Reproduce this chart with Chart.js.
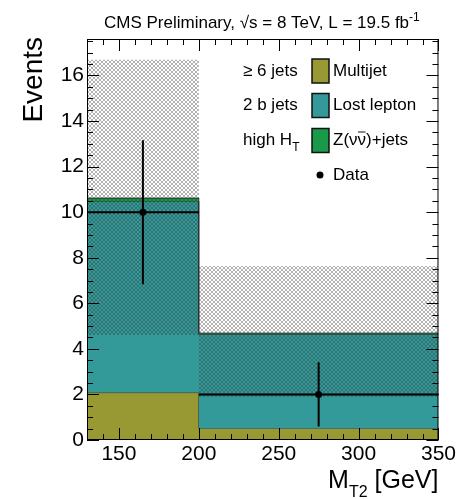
<!DOCTYPE html>
<html>
<head>
<meta charset="utf-8">
<title>MT2 high HT</title>
<script src="https://cdn.jsdelivr.net/npm/chart.js@4.4.0/dist/chart.umd.min.js"></script>
<style>body{margin:0;background:#fff}</style>
</head>
<body>
<canvas id="mt2" width="458" height="499"></canvas>
<script>
// bin edges, MT2 [GeV]
var binEdges = [130, 200, 350];
// stacked backgrounds per bin
var multijet = [2.08, 0.51];
var lostLepton = [8.39, 4.13];
var znunu = [0.15, 0.05];
// total background uncertainty band
var bandLow = [4.61, 1.9];
var bandHigh = [16.69, 7.64];
// observed data
var dataX = [165, 275];
var dataY = [10, 2];
var dataLow = [6.84, 0.59];
var dataHigh = [13.16, 3.41];

var FONT = 'Liberation Sans, Arial, Helvetica, sans-serif';

function addUp(a, b) { return a.map(function(v, i) { return v + b[i]; }); }
var stackMJ = multijet;
var stackLL = addUp(stackMJ, lostLepton);
var stackZ = addUp(stackLL, znunu);

// points at left bin edges + last right edge, drawn as steps
function steps(vals) {
  var pts = vals.map(function(v, i) { return {x: binEdges[i], y: v}; });
  pts.push({x: binEdges[binEdges.length - 1], y: vals[vals.length - 1]});
  return pts;
}

function hatch() {
  var c = document.createElement('canvas');
  c.width = 4; c.height = 4;
  var g = c.getContext('2d');
  g.fillStyle = 'rgba(50,50,50,0.38)';
  for (var i = 0; i < 4; i++) {
    g.fillRect(i, i, 1, 1);
    g.fillRect(3 - i, i, 1, 1);
  }
  return g.createPattern(c, 'repeat');
}

function histo(label, vals, color, fill, order) {
  return {
    label: label, data: steps(vals), stepped: 'before', fill: fill, order: order,
    backgroundColor: color, borderColor: 'rgba(20,20,20,0.8)', borderWidth: 1,
    pointRadius: 0
  };
}

// error bars, frame, inward ticks and all the ROOT-style texts
var decor = {
  id: 'decor',
  afterDatasetsDraw: function(chart) {
    var ctx = chart.ctx, x = chart.scales.x, y = chart.scales.y;
    ctx.save();
    ctx.strokeStyle = '#000';
    ctx.lineWidth = 2;
    for (var i = 0; i < dataY.length; i++) {
      ctx.beginPath();
      ctx.moveTo(x.getPixelForValue(binEdges[i]), y.getPixelForValue(dataY[i]));
      ctx.lineTo(x.getPixelForValue(binEdges[i + 1]), y.getPixelForValue(dataY[i]));
      ctx.moveTo(x.getPixelForValue(dataX[i]), y.getPixelForValue(dataLow[i]));
      ctx.lineTo(x.getPixelForValue(dataX[i]), y.getPixelForValue(dataHigh[i]));
      ctx.stroke();
    }
    // bin edge line down to the axis
    ctx.lineWidth = 1;
    ctx.strokeStyle = 'rgba(20,20,20,0.8)';
    ctx.beginPath();
    var ex = Math.round(x.getPixelForValue(binEdges[1])) + 0.5;
    ctx.moveTo(ex, y.getPixelForValue(0));
    ctx.lineTo(ex, y.getPixelForValue(stackMJ[1]));
    ctx.stroke();
    ctx.restore();
  },
  afterDraw: function(chart) {
    var ctx = chart.ctx, a = chart.chartArea, x = chart.scales.x, y = chart.scales.y;
    ctx.save();
    ctx.strokeStyle = '#000';
    ctx.lineWidth = 1;
    ctx.strokeRect(a.left + 0.5, a.top + 0.5, a.right - a.left - 1, a.bottom - a.top - 1);
    ctx.beginPath();
    var v, p, len;
    for (v = 130; v <= 350; v += 10) {
      p = Math.round(x.getPixelForValue(v)) + 0.5;
      len = v % 50 === 0 ? 12 : 6;
      ctx.moveTo(p, a.bottom); ctx.lineTo(p, a.bottom - len);
      ctx.moveTo(p, a.top); ctx.lineTo(p, a.top + len);
    }
    for (v = 0; v <= 17.5; v += 0.5) {
      p = Math.round(y.getPixelForValue(v)) + 0.5;
      len = v % 2 === 0 ? 12 : 6;
      ctx.moveTo(a.left, p); ctx.lineTo(a.left + len, p);
      ctx.moveTo(a.right, p); ctx.lineTo(a.right - len, p);
    }
    ctx.stroke();

    ctx.fillStyle = '#000';
    ctx.textBaseline = 'alphabetic';
    // title
    ctx.font = '17px ' + FONT;
    var t = 'CMS Preliminary, \u221As = 8 TeV, L = 19.5 fb';
    ctx.fillText(t, 104, 28);
    var tw = ctx.measureText(t).width;
    ctx.font = '12px ' + FONT;
    ctx.fillText('-1', 104 + tw, 21);

    // y title
    ctx.save();
    ctx.translate(42, 37);
    ctx.rotate(-Math.PI / 2);
    ctx.textAlign = 'right';
    ctx.font = '28px ' + FONT;
    ctx.fillText('Events', 0, 0);
    ctx.restore();

    // x title
    ctx.font = '25px ' + FONT;
    var w1 = ctx.measureText('M').width, w3 = ctx.measureText(' [GeV]').width;
    ctx.font = '16px ' + FONT;
    var w2 = ctx.measureText('T2').width;
    var x0 = a.right - w1 - w2 - w3;
    ctx.font = '25px ' + FONT;
    ctx.fillText('M', x0, 488);
    ctx.fillText(' [GeV]', x0 + w1 + w2, 488);
    ctx.font = '16px ' + FONT;
    ctx.fillText('T2', x0 + w1, 497);

    // legend
    var rows = [71, 105.5, 140.5, 175];
    ctx.font = '17px ' + FONT;
    ctx.textBaseline = 'middle';
    ctx.fillText('\u2265 6 jets', 243, rows[0]);
    ctx.fillText('2 b jets', 243, rows[1]);
    ctx.fillText('high H', 243, rows[2]);
    var hw = ctx.measureText('high H').width;
    ctx.font = '12px ' + FONT;
    ctx.fillText('T', 243 + hw, rows[2] + 7);

    var boxes = [['Multijet', '#999933'], ['Lost lepton', '#339999'], ['Z', '#19994a']];
    ctx.lineWidth = 1.5;
    for (var i = 0; i < 3; i++) {
      ctx.fillStyle = boxes[i][1];
      ctx.fillRect(312, rows[i] - 12, 17, 24);
      ctx.strokeStyle = '#111';
      ctx.strokeRect(312, rows[i] - 12, 17, 24);
    }
    ctx.fillStyle = '#000';
    ctx.font = '17px ' + FONT;
    ctx.fillText('Multijet', 333, rows[0]);
    ctx.fillText('Lost lepton', 333, rows[1]);
    var zx = 333;
    ctx.fillText('Z(\u03BD', zx, rows[2]);
    zx += ctx.measureText('Z(\u03BD').width;
    var nw = ctx.measureText('\u03BD').width;
    ctx.fillText('\u03BD', zx, rows[2]);
    ctx.beginPath();
    ctx.lineWidth = 1;
    ctx.moveTo(zx + 0.5, rows[2] - 8.5);
    ctx.lineTo(zx + nw - 0.5, rows[2] - 8.5);
    ctx.stroke();
    ctx.fillText(')+jets', zx + nw, rows[2]);
    ctx.beginPath();
    ctx.arc(320, rows[3], 3.5, 0, Math.PI * 2);
    ctx.fill();
    ctx.fillText('Data', 333, rows[3]);
    ctx.restore();
  }
};

var ctx = document.getElementById('mt2').getContext('2d');
var chart = new Chart(ctx, {
  type: 'line',
  data: {
    datasets: [
      {
        label: 'Data', type: 'scatter', order: 0,
        data: dataX.map(function(v, i) { return {x: v, y: dataY[i]}; }),
        pointRadius: 3.5, pointBackgroundColor: '#000', pointBorderWidth: 0, showLine: false
      },
      {
        label: 'Uncertainty', data: steps(bandHigh), stepped: 'before', fill: '+1', order: 1,
        backgroundColor: hatch(), borderWidth: 0, pointRadius: 0
      },
      {
        label: 'band low', data: steps(bandLow), stepped: 'before', fill: false, order: 2,
        borderWidth: 0, pointRadius: 0
      },
      histo('Z(nunu)+jets', stackZ, '#19994a', '+1', 3),
      histo('Lost lepton', stackLL, '#339999', '+1', 4),
      histo('Multijet', stackMJ, '#999933', 'origin', 5)
    ]
  },
  options: {
    responsive: false,
    animation: false,
    layout: { padding: { top: 39, right: 18, left: 0, bottom: 0 } },
    plugins: { legend: { display: false }, tooltip: { enabled: false } },
    scales: {
      x: {
        type: 'linear', min: 130, max: 350,
        grid: { display: false, drawTicks: false }, border: { display: false },
        ticks: { stepSize: 50, includeBounds: false, color: '#000', padding: 2, maxRotation: 0,
                 font: { family: FONT, size: 21 } },
        afterFit: function(s) { s.height = 59; }
      },
      y: {
        min: 0, max: 17.6,
        grid: { display: false, drawTicks: false }, border: { display: false },
        ticks: { stepSize: 2, includeBounds: false, color: '#000', padding: 3,
                 font: { family: FONT, size: 21 } },
        afterFit: function(s) { s.width = 87; }
      }
    }
  },
  plugins: [decor]
});
</script>
</body>
</html>
